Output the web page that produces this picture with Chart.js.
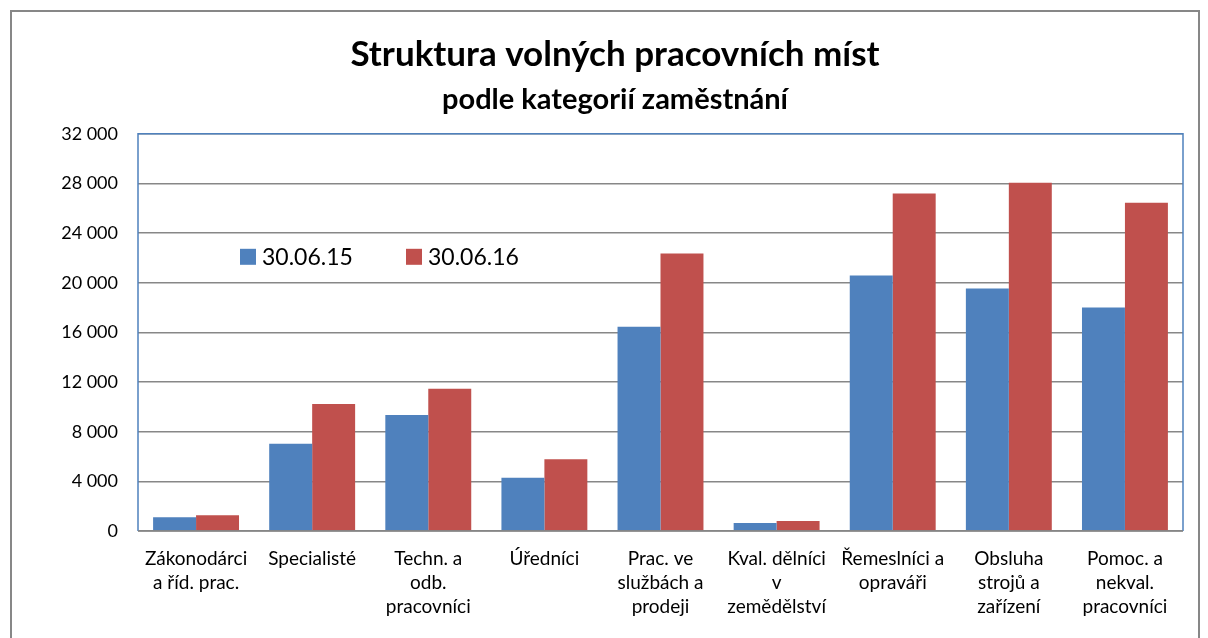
<!DOCTYPE html>
<html>
<head>
<meta charset="utf-8">
<script src="https://cdn.jsdelivr.net/npm/chart.js@4.4.0/dist/chart.umd.min.js"></script>
<style>
  body { margin: 0; background: #fff; }
  #frame { position: absolute; left: 10px; top: 10px; width: 1186px; height: 700px; border: 2px solid #878787; }
  #wrap { position: absolute; left: 0; top: 0; width: 1208px; height: 638px; }
</style>
</head>
<body>
<div id="frame"></div>
<div id="wrap"><canvas id="barChart" width="1208" height="638"></canvas></div>
<script>
// data
var categories = [
    ["Zákonodárci", "a říd. prac."],
    ["Specialisté"],
    ["Techn. a", "odb.", "pracovníci"],
    ["Úředníci"],
    ["Prac. ve", "službách a", "prodeji"],
    ["Kval. dělníci", "v", "zemědělství"],
    ["Řemeslníci a", "opraváři"],
    ["Obsluha", "strojů a", "zařízení"],
    ["Pomoc. a", "nekval.", "pracovníci"]
];
var seriesNames = ["30.06.15", "30.06.16"];
var values2015 = [1100, 7020, 9340, 4280, 16460, 650, 20580, 19530, 18000];
var values2016 = [1270, 10230, 11460, 5790, 22360, 800, 27200, 28060, 26450];
var yTicks = [0, 4000, 8000, 12000, 16000, 20000, 24000, 28000, 32000];

var FONT = "Lato, 'Open Sans', sans-serif";

function fmt(v){
    return String(v).replace(/\B(?=(\d{3})+(?!\d))/g, ' ');
}

// legend drawn inside the plot, plus the plot frame
var insideLegend = {
    id: 'insideLegend',
    afterDraw: function(chart){
        var ctx = chart.ctx, a = chart.chartArea;
        ctx.save();
        ctx.lineWidth = 1.5;
        ctx.strokeStyle = '#4F81BD';
        ctx.beginPath();
        ctx.moveTo(a.left, a.bottom);
        ctx.lineTo(a.left, a.top);
        ctx.lineTo(a.right, a.top);
        ctx.lineTo(a.right, a.bottom);
        ctx.stroke();
        ctx.strokeStyle = '#868686';
        ctx.beginPath();
        ctx.moveTo(a.left, a.bottom);
        ctx.lineTo(a.right, a.bottom);
        ctx.stroke();

        var x = a.left + 102, y = a.top + 123;
        ctx.font = "23px " + FONT;
        ctx.textBaseline = 'middle';
        chart.data.datasets.forEach(function(ds, i){
            ctx.fillStyle = ds.backgroundColor;
            ctx.fillRect(x, y - 8, 16, 16);
            ctx.fillStyle = '#000';
            ctx.fillText(ds.label, x + 22, y + 1);
            x += 166;
        });
        ctx.restore();
    }
};

var ctx = document.getElementById("barChart").getContext('2d');
var myBarChart = new Chart(ctx, {
    type: 'bar',
    data: {
        labels: categories,
        datasets: [{
            label: seriesNames[0],
            data: values2015,
            backgroundColor: '#4F81BD'
        }, {
            label: seriesNames[1],
            data: values2016,
            backgroundColor: '#C0504D'
        }]
    },
    options: {
        responsive: false,
        animation: false,
        layout: { padding: { left: 47, right: 25, top: 34, bottom: 0 } },
        datasets: { bar: { categoryPercentage: 0.74, barPercentage: 1.0 } },
        plugins: {
            legend: { display: false },
            tooltip: { enabled: false },
            title: {
                display: true,
                text: 'Struktura volných pracovních míst',
                color: '#000',
                font: { family: FONT, size: 35, weight: 'bold', lineHeight: 1.2 },
                padding: { top: 0, bottom: 6 }
            },
            subtitle: {
                display: true,
                text: 'podle kategorií zaměstnání',
                color: '#000',
                font: { family: FONT, size: 29, weight: 'bold', lineHeight: 1.2 },
                padding: { top: 0, bottom: 17 }
            }
        },
        scales: {
            x: {
                grid: {
                    display: false
                },
                border: { display: false },
                ticks: {
                    color: '#000',
                    padding: 8,
                    maxRotation: 0,
                    autoSkip: false,
                    font: { family: FONT, size: 19, lineHeight: 1.26 }
                },
                afterFit: function(scale){ scale.height = 107; }
            },
            y: {
                min: 0,
                max: 32000,
                afterBuildTicks: function(scale){
                    scale.ticks = yTicks.map(function(v){ return { value: v }; });
                },
                grid: {
                    color: '#878787',
                    lineWidth: 1.5,
                    drawTicks: false
                },
                border: { display: false },
                ticks: {
                    color: '#000',
                    padding: 20,
                    font: { family: FONT, size: 18 },
                    callback: function(v){ return fmt(v); }
                },
                afterFit: function(scale){ scale.width = 91; }
            }
        }
    },
    plugins: [insideLegend]
});
</script>
</body>
</html>
